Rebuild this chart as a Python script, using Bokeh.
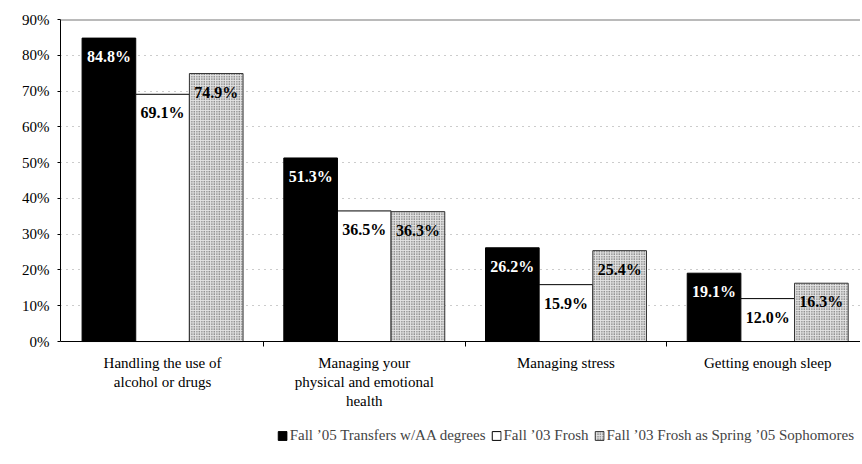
from bokeh.plotting import figure
from bokeh.models import (Range1d, FixedTicker, PrintfTickFormatter, ColumnDataSource,
                          Legend, LegendItem, Span)
from bokeh.transform import dodge
from bokeh.core.properties import value
from bokeh.embed import file_html
from bokeh.resources import INLINE

categories = ["Handling the use of\nalcohol or drugs",
              "Managing your\nphysical and emotional\nhealth",
              "Managing stress",
              "Getting enough sleep"]
series = ["Fall \u201905 Transfers w/AA degrees",
          "Fall \u201903 Frosh",
          "Fall \u201903 Frosh as Spring \u201905 Sophomores"]
transfers = [84.8, 51.3, 26.2, 19.1]
frosh = [69.1, 36.5, 15.9, 12.0]
sophomores = [74.9, 36.3, 25.4, 16.3]
y_ticks = [0, 10, 20, 30, 40, 50, 60, 70, 80, 90]

FONT = "Liberation Serif"
idx = list(range(len(categories)))
src = ColumnDataSource(dict(
    x=idx, t=transfers, f=frosh, s=sophomores,
    tl=[f"{v:.1f}%" for v in transfers],
    fl=[f"{v:.1f}%" for v in frosh],
    sl=[f"{v:.1f}%" for v in sophomores],
))

# frame extends below 0 to hold the category labels and legend (axis pinned at 0)
p = figure(frame_width=800, frame_height=431, output_backend="svg", toolbar_location=None,
           x_range=Range1d(-0.506, 3.46), y_range=Range1d(-30.45, y_ticks[-1]),
           min_border_left=60, min_border_top=19, min_border_right=0, min_border_bottom=0)
p.outline_line_color = None
p.background_fill_color = "white"

bw = 0.266
r1 = p.vbar(x=dodge("x", -bw, range=None), top="t", width=bw, source=src,
            fill_color="black", line_color="black", line_width=1)
r2 = p.vbar(x="x", top="f", width=bw, source=src,
            fill_color="white", line_color="black", line_width=1)
r3 = p.vbar(x=dodge("x", bw, range=None), top="s", width=bw, source=src,
            fill_color="#e4e4e4", line_color="#333333", line_width=1,
            hatch_pattern="dot", hatch_color="#333333", hatch_scale=2.5, hatch_weight=1)

lbl = dict(text_font=value(FONT), text_font_size="16px", text_font_style="bold",
           text_align="center", text_baseline="top", y_offset=10)
p.text(x=dodge("x", -bw, range=None), y="t", text="tl", source=src, text_color="white", **lbl)
p.text(x="x", y="f", text="fl", source=src, text_color="black", **lbl)
p.text(x=dodge("x", bw, range=None), y="s", text="sl", source=src, text_color="black", **lbl)

p.add_layout(Span(location=y_ticks[-1], dimension="width", line_color="#777777", line_width=2))

p.xgrid.visible = False
p.ygrid.ticker = FixedTicker(ticks=y_ticks[1:])
p.ygrid.grid_line_color = "#999999"
p.ygrid.grid_line_dash = "1 5"
p.ygrid.grid_line_width = 1

p.yaxis.ticker = FixedTicker(ticks=y_ticks, minor_ticks=[])
p.yaxis.bounds = (y_ticks[0], y_ticks[-1])
p.yaxis.formatter = PrintfTickFormatter(format="%d%%")
p.yaxis.major_label_text_font = FONT
p.yaxis.major_label_text_font_size = "15px"
p.yaxis.major_label_text_color = "black"
p.yaxis.major_tick_out = 3
p.yaxis.major_tick_in = 0
p.yaxis.axis_line_color = "black"
p.yaxis.major_tick_line_color = "black"
p.yaxis.major_label_standoff = 8

p.xaxis.fixed_location = y_ticks[0]
p.xaxis.ticker = FixedTicker(ticks=idx, minor_ticks=[i + 0.5 for i in idx[:-1]])
p.xaxis.major_label_overrides = {i: c for i, c in zip(idx, categories)}
p.xaxis.major_label_text_font = FONT
p.xaxis.major_label_text_font_size = "15px"
p.xaxis.major_label_text_color = "black"
p.xaxis.major_tick_out = 0
p.xaxis.major_tick_in = 0
p.xaxis.minor_tick_out = 5
p.xaxis.minor_tick_in = 0
p.xaxis.minor_tick_line_color = "black"
p.xaxis.axis_line_color = "black"
p.xaxis.major_label_standoff = 8

legend = Legend(items=[LegendItem(label=s, renderers=[r]) for s, r in zip(series, [r1, r2, r3])],
                orientation="horizontal", location="bottom_right",
                label_text_font=FONT, label_text_font_size="15px",
                glyph_width=11, glyph_height=11, label_height=16, label_standoff=2, spacing=5,
                padding=0, margin=6, border_line_alpha=0, background_fill_alpha=0)
p.add_layout(legend, "center")

open("out.html", "w").write(file_html(p, INLINE))
